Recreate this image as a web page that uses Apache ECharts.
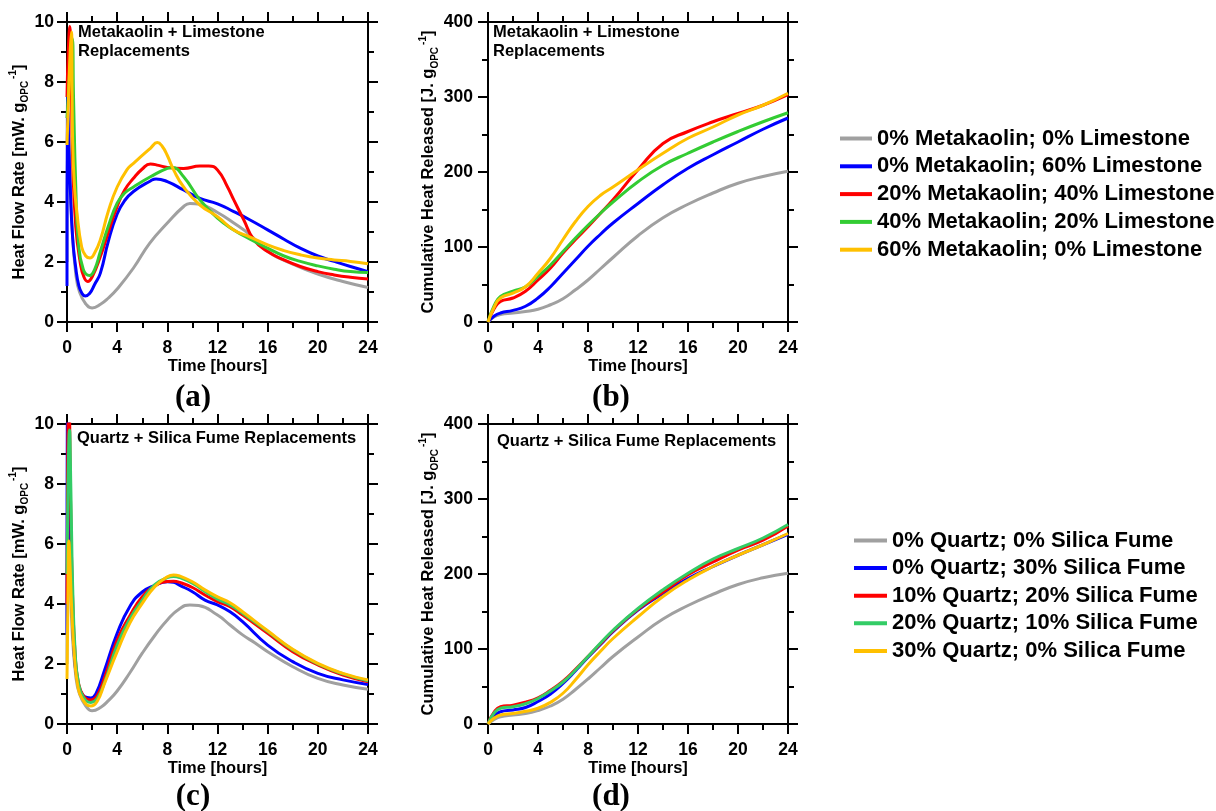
<!DOCTYPE html>
<html>
<head>
<meta charset="utf-8">
<script src="https://cdn.jsdelivr.net/npm/echarts@6/dist/echarts.min.js"></script>
<style>
html,body{margin:0;padding:0;background:#fff;}
#chart{width:1216px;height:811px;}
</style>
</head>
<body>
<div id="chart"></div>
<script>
// ---------- DATA ----------
const xTicks = [0, 4, 8, 12, 16, 20, 24];
const flowTicks = [0, 2, 4, 6, 8, 10];
const cumTicks = [0, 100, 200, 300, 400];

const namesMK = ['0% Metakaolin; 0% Limestone', '0% Metakaolin; 60% Limestone', '20% Metakaolin; 40% Limestone', '40% Metakaolin; 20% Limestone', '60% Metakaolin; 0% Limestone'];
const namesQS = ['0% Quartz; 0% Silica Fume', '0% Quartz; 30% Silica Fume', '10% Quartz; 20% Silica Fume', '20% Quartz; 10% Silica Fume', '30% Quartz; 0% Silica Fume'];

// (a) heat flow [time h, mW/g]
const flowA_gray = [[0,2.0],[0.08,7.0],[0.2,5.5],[0.4,3.2],[0.7,1.6],[1.0,1.0],[1.5,0.6],[2.0,0.47],[2.7,0.6],[3.3,0.8],[4,1.1],[5.3,1.8],[6.6,2.63],[8,3.3],[9.3,3.85],[9.8,3.95],[10.6,3.92],[12,3.65],[13.3,3.3],[14.6,2.9],[16,2.35],[18,1.93],[20,1.6],[22,1.35],[24,1.15]];
const flowA_blue = [[0,1.2],[0.04,7.5],[0.12,6.2],[0.25,4.6],[0.45,2.8],[0.7,1.8],[0.95,1.2],[1.2,0.95],[1.45,0.87],[1.8,0.95],[2.2,1.25],[2.66,1.63],[3.3,2.7],[4,3.6],[4.6,4.05],[5.3,4.35],[6.65,4.7],[7.1,4.77],[8,4.68],[9.3,4.4],[10.6,4.12],[12,3.94],[13.3,3.68],[14.6,3.4],[16,3.07],[17.3,2.76],[18.6,2.46],[20,2.2],[21.3,2.02],[22.6,1.85],[24,1.68]];
const flowA_red = [[0,7.5],[0.1,9.0],[0.22,9.85],[0.32,8.5],[0.45,5.4],[0.7,3.17],[1.06,1.97],[1.35,1.5],[1.65,1.35],[2.0,1.5],[2.66,2.18],[3.3,3.0],[4,3.85],[4.6,4.4],[5.3,4.79],[6,5.1],[6.65,5.27],[7.3,5.22],[8,5.15],[9.3,5.12],[10.6,5.2],[11.3,5.2],[12,5.07],[12.8,4.5],[13.3,4.07],[14.1,3.4],[14.9,2.74],[16,2.35],[17.3,2.07],[18.6,1.85],[20,1.68],[21.3,1.57],[22.6,1.49],[24,1.43]];
const flowA_green = [[0,6.8],[0.1,7.5],[0.25,8.6],[0.42,9.45],[0.52,7.5],[0.7,4.5],[0.9,2.7],[1.3,1.75],[1.8,1.55],[2.2,1.75],[2.66,2.35],[3.3,3.2],[4,3.96],[4.6,4.3],[5.3,4.5],[6.65,4.84],[8,5.12],[8.4,5.15],[9.3,4.84],[10.6,4.07],[12,3.46],[13.3,3.07],[14.6,2.76],[16,2.46],[17.3,2.2],[18.6,2.02],[20,1.87],[21.3,1.76],[22.6,1.68],[24,1.65]];
const flowA_yellow = [[0,5.9],[0.12,7.5],[0.25,9.0],[0.35,9.67],[0.45,6.0],[0.6,4.5],[0.77,3.73],[1.17,2.5],[1.5,2.2],[1.83,2.13],[2.2,2.3],[2.66,2.74],[3.3,3.7],[4,4.5],[4.8,5.09],[5.3,5.29],[6.65,5.79],[7.2,5.98],[7.6,5.85],[8,5.55],[8.5,5.07],[9.3,4.5],[10.6,3.9],[12,3.51],[13.3,3.07],[14.6,2.83],[16,2.57],[17.3,2.38],[18.6,2.24],[20,2.13],[21.3,2.07],[22.6,2.02],[24,1.94]];

// (b) & (d) cumulative heat [J/g] at these times
const cumTime = [0,0.5,1,2,3,4,5,6,7,8,9,10,12,14,16,18,20,22,24];
const cumB_gray   = [0,7,10,12,14,17,23,31,43,56,71,86,115,139,157,172,185,194,201];
const cumB_blue   = [0,8,12,15.5,21,32,47,65,83,101,117,132,158,183,205,223,240,257,272];
const cumB_red    = [0,18,27.5,32,41,56,72,92,110,127,145,163,203,238,254,267,278,289,303];
const cumB_green  = [0,22,34,41,47,61,76,94,112,129,145,160,187,209,225,240,254,267,279];
const cumB_yellow = [0,20,32,38.6,47,65,85,110,134,154,169,180,203,225,245,260,276,289,305];

// (c) heat flow
const flowC_gray = [[0,2.0],[0.08,7.0],[0.2,5.5],[0.4,3.2],[0.7,1.6],[1.0,1.0],[1.5,0.6],[2.0,0.44],[2.7,0.56],[3.3,0.78],[4,1.1],[5,1.7],[6,2.36],[7,2.95],[8,3.47],[9,3.85],[9.8,3.97],[10.5,3.95],[12,3.63],[13,3.3],[14,2.97],[15,2.7],[16,2.41],[18,1.91],[20,1.52],[22,1.3],[24,1.16]];
const flowC_blue = [[0,3],[0.04,12],[0.12,10],[0.25,6.5],[0.4,4.0],[0.6,2.2],[0.85,1.4],[1.2,1.0],[1.6,0.88],[1.9,0.87],[2.3,1.0],[3,1.8],[4,3.02],[5,3.91],[6,4.4],[7,4.62],[8,4.74],[8.5,4.72],[9,4.62],[10,4.41],[11,4.13],[12,3.97],[13,3.74],[14,3.41],[16,2.63],[18,2.08],[20,1.69],[22,1.47],[24,1.32]];
const flowC_red = [[0,4],[0.06,9],[0.15,11],[0.3,7],[0.45,4.2],[0.65,2.3],[0.9,1.4],[1.3,0.95],[1.9,0.8],[2.4,0.95],[3,1.55],[4,2.8],[5,3.6],[6,4.24],[7,4.6],[8,4.75],[8.5,4.76],[9,4.72],[10,4.55],[11,4.3],[12,4.08],[13,3.91],[14,3.63],[16,3.02],[18,2.41],[20,1.97],[22,1.63],[24,1.41]];
const flowC_green = [[0,5],[0.08,8],[0.2,9.8],[0.3,8],[0.45,4.6],[0.65,2.4],[0.9,1.4],[1.3,0.9],[1.9,0.72],[2.4,0.85],[3,1.4],[4,2.63],[5,3.5],[6,4.13],[7,4.65],[8,4.88],[8.5,4.92],[9,4.88],[10,4.69],[11,4.42],[12,4.16],[13,3.97],[14,3.69],[16,3.08],[18,2.47],[20,2.0],[22,1.67],[24,1.44]];
const flowC_yellow = [[0,1.5],[0.07,4],[0.15,6.1],[0.25,5.2],[0.4,3.6],[0.6,2.2],[0.85,1.3],[1.2,0.85],[1.9,0.6],[2.4,0.75],[3,1.36],[4,2.41],[5,3.36],[6,4.02],[7,4.58],[8,4.91],[8.5,4.97],[9,4.93],[10,4.74],[11,4.47],[12,4.24],[13,4.04],[14,3.74],[16,3.11],[18,2.49],[20,2.02],[22,1.69],[24,1.47]];

// (d) cumulative
const cumD_gray   = [0,6,9.5,12,14,18,24,33,46,60,75,90,116,140,158,173,186,195,201];
const cumD_blue   = [0,11,16.4,18.7,22,30,40,54,71,89,106,123,152,174,194,210,225,239,253];
const cumD_red    = [0,16,23,25,29,35,45,57,73,90,107,124,153,176,199,216,232,245,264];
const cumD_green  = [0,15,21,23,27,34,44,56,72,90,108,125,154,179,201,220,234,248,266];
const cumD_yellow = [0,8,12,14,17,21,29,41,59,79,97,114,143,170,192,210,225,239,254];

const colorsMK = ['#a0a0a0', '#0000ff', '#ff0000', '#33cc33', '#ffc000'];
const colorsQS = ['#a0a0a0', '#0000ff', '#ff0000', '#33cc66', '#ffc000'];

// ---------- BUILD ----------
const FONT = '"Liberation Sans", Arial, sans-serif';
const grids = [
  {left: 67, top: 22, width: 301, height: 300},
  {left: 488, top: 22, width: 300, height: 300},
  {left: 67, top: 424, width: 301, height: 300},
  {left: 488, top: 424, width: 300, height: 300}
];
const lineS = {color: '#000', width: 2};

function nameRich(main) {
  return {
    name: '{a|' + main + '}{sub|OPC}{sup|-1}{a|]}',
    nameTextStyle: {
      rich: {
        a: {fontSize: 16.5, fontWeight: 'bold', fontFamily: FONT, color: '#000', lineHeight: 22},
        sub: {fontSize: 10, fontWeight: 'bold', fontFamily: FONT, color: '#000', lineHeight: 10, verticalAlign: 'bottom'},
        sup: {fontSize: 10, fontWeight: 'bold', fontFamily: FONT, color: '#000', lineHeight: 10, verticalAlign: 'top', padding: [0, 0, 0, 2]}
      }
    }
  };
}

const xAxes = [], yAxes = [];
grids.forEach((g, i) => {
  const isFlow = (i === 0 || i === 2);
  const common = {type: 'value', gridIndex: i, min: 0, max: 24, interval: 4,
    axisLine: {show: true, onZero: false, lineStyle: lineS},
    axisTick: {show: true, inside: false, length: 10, lineStyle: lineS},
    minorTick: {show: true, splitNumber: 2, length: 6, lineStyle: lineS},
    splitLine: {show: false}, minorSplitLine: {show: false}};
  xAxes.push(Object.assign({}, common, {
    position: 'bottom',
    axisLabel: {show: true, margin: 17, fontSize: 17.5, fontWeight: 'bold', fontFamily: FONT, color: '#000',
      formatter: v => xTicks.includes(v) ? String(v) : ''},
    name: 'Time [hours]', nameLocation: 'middle', nameGap: 35,
    nameTextStyle: {fontSize: 16.5, fontWeight: 'bold', fontFamily: FONT, color: '#000'}
  }));
  xAxes.push(Object.assign({}, common, {position: 'top', axisLabel: {show: false}}));

  const yMax = isFlow ? 10 : 400;
  const yInt = isFlow ? 2 : 100;
  const ticks = isFlow ? flowTicks : cumTicks;
  const ycommon = {type: 'value', gridIndex: i, min: 0, max: yMax, interval: yInt,
    axisLine: {show: true, onZero: false, lineStyle: lineS},
    axisTick: {show: true, inside: false, length: 10, lineStyle: lineS},
    minorTick: {show: true, splitNumber: 2, length: 6, lineStyle: lineS},
    splitLine: {show: false}, minorSplitLine: {show: false}};
  const nm = isFlow ? nameRich('Heat Flow Rate [mW. g') : nameRich('Cumulative Heat Released [J. g');
  yAxes.push(Object.assign({}, ycommon, {
    position: 'left',
    axisLabel: {show: true, margin: isFlow ? 13 : 15, fontSize: 17.5, fontWeight: 'bold', fontFamily: FONT, color: '#000',
      formatter: v => ticks.includes(v) ? String(v) : ''},
    nameLocation: 'middle', nameGap: isFlow ? 36 : 47
  }, nm));
  yAxes.push(Object.assign({}, ycommon, {position: 'right', axisLabel: {show: false}}));
});

function pairs(t, v) { return t.map((x, k) => [x, v[k]]); }

const series = [];
function addSeries(grid, names, colors, datas) {
  datas.forEach((d, k) => {
    series.push({
      type: 'line', name: names[k], xAxisIndex: grid * 2, yAxisIndex: grid * 2,
      data: d, showSymbol: false, symbol: 'none', smooth: 0.5,
      clip: true, z: 2 + k,
      lineStyle: {color: colors[k], width: 3}, itemStyle: {color: colors[k]},
      emphasis: {disabled: true}
    });
  });
}
addSeries(0, namesMK, colorsMK, [flowA_gray, flowA_blue, flowA_red, flowA_green, flowA_yellow]);
addSeries(1, namesMK, colorsMK, [pairs(cumTime, cumB_gray), pairs(cumTime, cumB_blue), pairs(cumTime, cumB_red), pairs(cumTime, cumB_green), pairs(cumTime, cumB_yellow)]);
addSeries(2, namesQS, colorsQS, [flowC_gray, flowC_blue, flowC_red, flowC_green, flowC_yellow]);
addSeries(3, namesQS, colorsQS, [pairs(cumTime, cumD_gray), pairs(cumTime, cumD_blue), pairs(cumTime, cumD_red), pairs(cumTime, cumD_green), pairs(cumTime, cumD_yellow)]);

const titleStyle = {fontSize: 16.5, fontWeight: 'bold', fontFamily: FONT, color: '#000', lineHeight: 19};
const legendText = {fontSize: 22, fontWeight: 'bold', fontFamily: FONT, color: '#000', lineHeight: 21};

const option = {
  backgroundColor: '#fff',
  animation: false,
  grid: grids.map(g => Object.assign({containLabel: false, outerBoundsMode: 'none', show: false}, g)),
  xAxis: xAxes,
  yAxis: yAxes,
  title: [
    {text: 'Metakaolin + Limestone\nReplacements', left: 78, top: 23, padding: 0, textStyle: titleStyle},
    {text: 'Metakaolin + Limestone\nReplacements', left: 493, top: 23, padding: 0, textStyle: titleStyle},
    {text: 'Quartz + Silica Fume Replacements', left: 77, top: 429, padding: 0, textStyle: titleStyle},
    {text: 'Quartz + Silica Fume Replacements', left: 497, top: 432, padding: 0, textStyle: titleStyle}
  ],
  legend: [
    {data: namesMK, orient: 'vertical', left: 840, top: 127.5, padding: 0, itemGap: 5.8, itemWidth: 32, itemHeight: 4,
      icon: 'rect', textStyle: legendText, selectedMode: false},
    {data: namesQS, orient: 'vertical', left: 854, top: 529.5, padding: 0, itemGap: 5.6, itemWidth: 33, itemHeight: 4,
      icon: 'rect', textStyle: legendText, selectedMode: false}
  ],
  graphic: [
    {type: 'text', x: 193, y: 398, style: {text: '(a)', fontSize: 31, fontWeight: 'bold', fontFamily: '"Liberation Serif", "Times New Roman", serif', fill: '#000', align: 'center', verticalAlign: 'middle'}},
    {type: 'text', x: 611, y: 398, style: {text: '(b)', fontSize: 31, fontWeight: 'bold', fontFamily: '"Liberation Serif", "Times New Roman", serif', fill: '#000', align: 'center', verticalAlign: 'middle'}},
    {type: 'text', x: 193, y: 797, style: {text: '(c)', fontSize: 31, fontWeight: 'bold', fontFamily: '"Liberation Serif", "Times New Roman", serif', fill: '#000', align: 'center', verticalAlign: 'middle'}},
    {type: 'text', x: 611, y: 797, style: {text: '(d)', fontSize: 31, fontWeight: 'bold', fontFamily: '"Liberation Serif", "Times New Roman", serif', fill: '#000', align: 'center', verticalAlign: 'middle'}}
  ],
  series: series
};

const chart = echarts.init(document.getElementById('chart'), null, {renderer: 'canvas'});
chart.setOption(option);
</script>
</body>
</html>
